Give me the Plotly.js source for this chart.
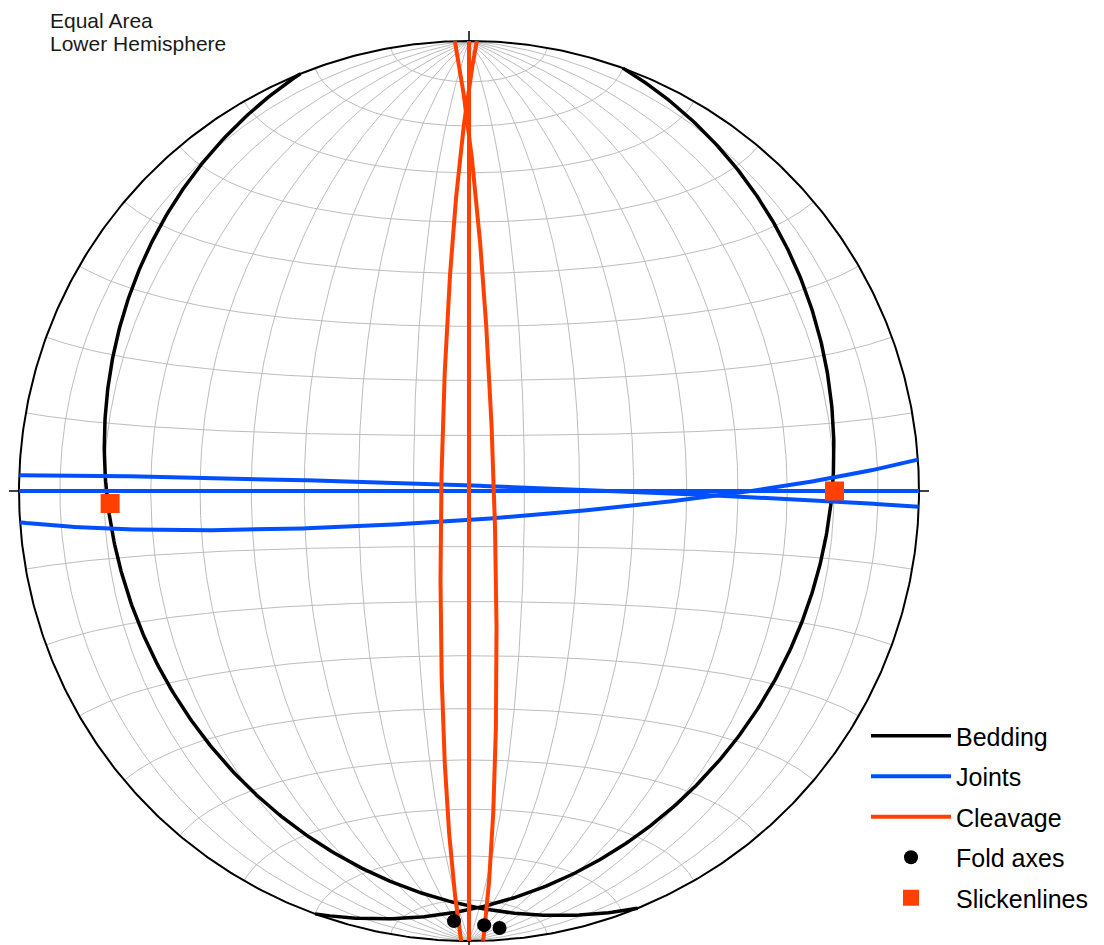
<!DOCTYPE html>
<html><head><meta charset="utf-8">
<script src="https://cdn.plot.ly/plotly-3.0.1.min.js"></script>
<style>html,body{margin:0;padding:0;background:#fff}#chart{width:1104px;height:945px}</style>
</head><body><div id="chart"></div>
<script>
// ---- Data (planes: right-hand-rule strike / dip, degrees; lines: trend / plunge) ----
const beddingStrike = [158, 20];
const beddingDip = [22, 21.6];
const jointStrike = [90, 272, 86];
const jointDip = [90, 89, 84.8];
const cleavageStrike = [0, 181, 358.2];
const cleavageDip = [90, 85, 85.5];
const foldTrend = [182, 178, 176];
const foldPlunge = [4.9, 3.9, 3.0];
const slickTrend = [268, 90];
const slickPlunge = [21.3, 19.9];
const seriesNames = ['Bedding', 'Joints', 'Cleavage', 'Fold axes', 'Slickenlines'];
const titleLines = ['Equal Area', 'Lower Hemisphere'];
const gridStep = 10;

// ---- Projection helpers (equal-area, lower hemisphere, unit primitive) ----
const D2R = Math.PI / 180;
function project(n, e, d) {
  if (d < 0) { n = -n; e = -e; d = -d; }
  const k = 1 / Math.sqrt(1 + d);
  return [e * k, n * k];
}
function lineXY(trend, plunge) {
  const t = trend * D2R, p = plunge * D2R;
  return project(Math.cos(p) * Math.cos(t), Math.cos(p) * Math.sin(t), Math.sin(p));
}
function planeXY(strike, dip) {
  const s = strike * D2R, dd = (strike + 90) * D2R, d = dip * D2R;
  const S = [Math.cos(s), Math.sin(s), 0];
  const D = [Math.cos(d) * Math.cos(dd), Math.cos(d) * Math.sin(dd), Math.sin(d)];
  const xs = [], ys = [];
  for (let r = 0; r <= 180; r += 0.5) {
    const c = Math.cos(r * D2R), sn = Math.sin(r * D2R);
    const p = project(c * S[0] + sn * D[0], c * S[1] + sn * D[1], c * S[2] + sn * D[2]);
    xs.push(p[0]); ys.push(p[1]);
  }
  return [xs, ys];
}
function smallCircleNS(alpha) {
  const a = alpha * D2R, xs = [], ys = [];
  for (let f = 0; f <= 180; f += 1) {
    const ph = f * D2R;
    const p = project(Math.cos(a), Math.sin(a) * Math.cos(ph), Math.sin(a) * Math.sin(ph));
    xs.push(p[0]); ys.push(p[1]);
  }
  return [xs, ys];
}
function planesTrace(strikes, dips) {
  const x = [], y = [];
  strikes.forEach((s, i) => {
    const c = planeXY(s, dips[i]);
    x.push(...c[0], null); y.push(...c[1], null);
  });
  return {x, y};
}
function linesTrace(trends, plunges) {
  const x = [], y = [];
  trends.forEach((t, i) => { const p = lineXY(t, plunges[i]); x.push(p[0]); y.push(p[1]); });
  return {x, y};
}

// ---- Grid ----
const gx = [], gy = [];
for (let dip = gridStep; dip <= 90; dip += gridStep) {
  [0, 180].forEach(s => {
    const c = planeXY(s, dip);
    gx.push(...c[0], null); gy.push(...c[1], null);
  });
}
for (let a = gridStep; a < 180; a += gridStep) {
  const c = smallCircleNS(a);
  gx.push(...c[0], null); gy.push(...c[1], null);
}
const px = [], py = [];
for (let t = 0; t <= 360; t += 0.5) { px.push(Math.sin(t * D2R)); py.push(Math.cos(t * D2R)); }

const fontFam = 'Liberation Sans, Arial, Helvetica, sans-serif';
const bed = planesTrace(beddingStrike, beddingDip);
const jnt = planesTrace(jointStrike, jointDip);
const clv = planesTrace(cleavageStrike, cleavageDip);
const fld = linesTrace(foldTrend, foldPlunge);
const slk = linesTrace(slickTrend, slickPlunge);

const traces = [
  {x: gx, y: gy, mode: 'lines', line: {color: '#bdbdbd', width: 1}, showlegend: false, hoverinfo: 'skip'},
  {x: px, y: py, mode: 'lines', line: {color: '#000', width: 2}, showlegend: false, hoverinfo: 'skip'},
  {x: bed.x, y: bed.y, mode: 'lines', name: seriesNames[0], legendgroup: 'a', line: {color: '#000000', width: 3.5}},
  {x: jnt.x, y: jnt.y, mode: 'lines', name: seriesNames[1], legendgroup: 'b', line: {color: '#0050ff', width: 4}},
  {x: clv.x, y: clv.y, mode: 'lines', name: seriesNames[2], legendgroup: 'c', line: {color: '#ff4000', width: 4}},
  {x: fld.x, y: fld.y, mode: 'markers', name: seriesNames[3], legendgroup: 'd', marker: {symbol: 'circle', size: 14, color: '#000'}},
  {x: slk.x, y: slk.y, mode: 'markers', name: seriesNames[4], legendgroup: 'e', marker: {symbol: 'square', size: 19, color: '#ff4000'}}
];

// ---- Layout: primitive centre at pixel (469,491), radius 450 ----
const W = 1104, H = 945, cx = 469, cy = 491, R = 450;
const tick = 10 / R;
const shapes = [
  [0, 1, 0, 1 + tick], [0, -1, 0, -1 - tick], [1, 0, 1 + tick, 0], [-1, 0, -1 - tick, 0]
].map(s => ({type: 'line', xref: 'x', yref: 'y', x0: s[0], y0: s[1], x1: s[2], y1: s[3], line: {color: '#000', width: 1.5}}));

const layout = {
  width: W, height: H, autosize: false,
  margin: {l: 0, r: 0, t: 0, b: 0, pad: 0},
  paper_bgcolor: '#fff', plot_bgcolor: '#fff',
  xaxis: {range: [-cx / R, (W - cx) / R], visible: false, fixedrange: true},
  yaxis: {range: [-(H - cy) / R, cy / R], visible: false, fixedrange: true},
  showlegend: true,
  legend: {x: 866 / W, y: 1 - 713 / H, xanchor: 'left', yanchor: 'top', bgcolor: 'rgba(0,0,0,0)',
           font: {family: fontFam, size: 25, color: '#000'}, itemwidth: 80, tracegroupgap: 5},
  hovermode: false,
  shapes: shapes,
  annotations: titleLines.map((t, i) => ({
    text: t, xref: 'paper', yref: 'paper', x: 48 / W, y: 1 - (20 + i * 23.5) / H,
    xanchor: 'left', yanchor: 'middle', showarrow: false,
    font: {family: fontFam, size: 21, color: '#1a1a1a'}
  }))
};
Plotly.newPlot('chart', traces, layout, {displayModeBar: false, staticPlot: true});
</script></body></html>
